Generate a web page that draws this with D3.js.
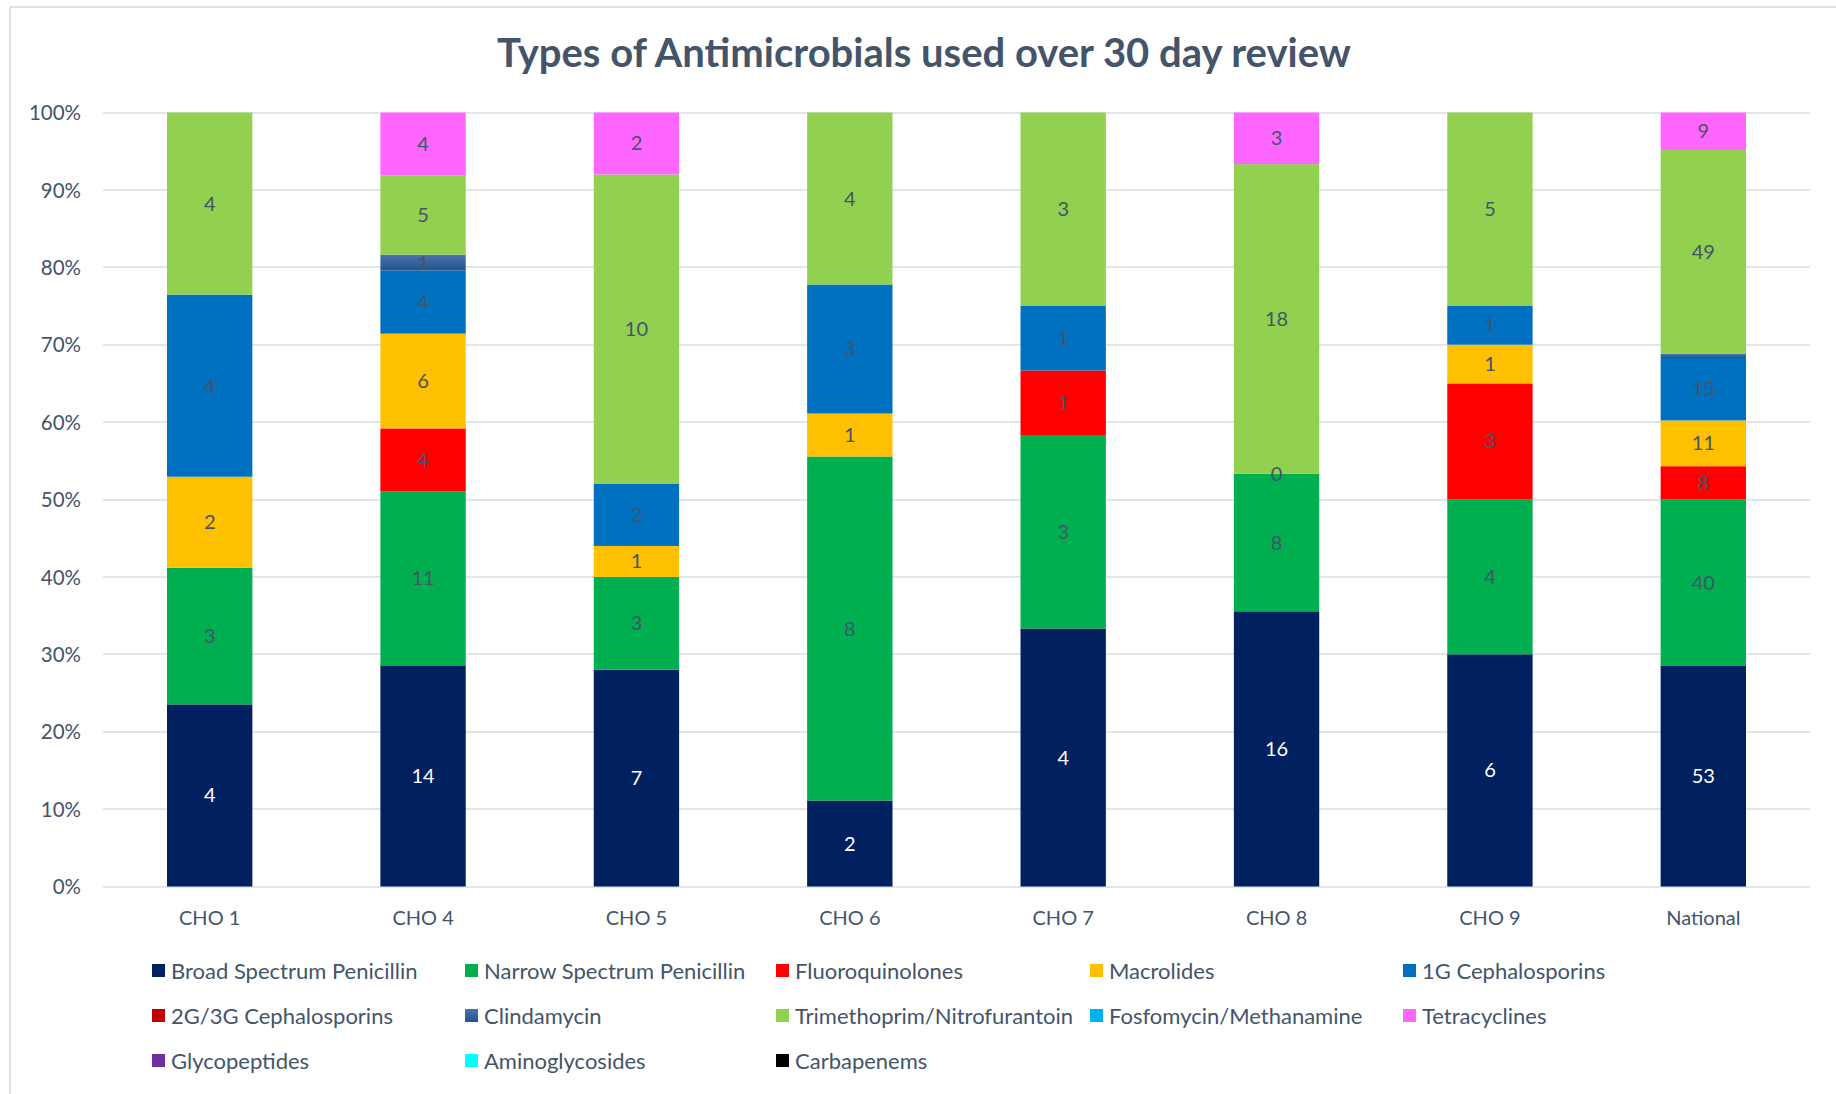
<!DOCTYPE html>
<html><head><meta charset="utf-8">
<script src="https://cdn.jsdelivr.net/npm/d3@7"></script>
<style>
html,body{margin:0;padding:0;background:#fff;}
svg{display:block;font-family:Lato,"Open Sans",sans-serif;}
</style></head>
<body>
<svg id="chart" width="1836" height="1094"></svg>
<script>
const categories = ["CHO 1","CHO 4","CHO 5","CHO 6","CHO 7","CHO 8","CHO 9","National"];
const seriesNames = ["Broad Spectrum Penicillin","Narrow Spectrum Penicillin","Fluoroquinolones","Macrolides","1G Cephalosporins","2G/3G Cephalosporins","Clindamycin","Trimethoprim/Nitrofurantoin","Fosfomycin/Methanamine","Tetracyclines","Glycopeptides","Aminoglycosides","Carbapenems"];
const broadSpectrum   = [4, 14, 7, 2, 4, 16, 6, 53];
const narrowSpectrum  = [3, 11, 3, 8, 3, 8, 4, 40];
const fluoroquinolones= [null, 4, null, null, 1, 0, 3, 8];
const macrolides      = [2, 6, 1, 1, null, null, 1, 11];
const cephalosporins1G= [4, 4, 2, 3, 1, null, 1, 15];
const cephalosporins23G=[null, null, null, null, null, null, null, null];
const clindamycin     = [null, 1, null, null, null, null, null, 1];
const trimethoprim    = [4, 5, 10, 4, 3, 18, 5, 49];
const fosfomycin      = [null, null, null, null, null, null, null, null];
const tetracyclines   = [null, 4, 2, null, null, 3, null, 9];
const glycopeptides   = [null, null, null, null, null, null, null, null];
const aminoglycosides = [null, null, null, null, null, null, null, null];
const carbapenems     = [null, null, null, null, null, null, null, null];
const yTicks = [0,0.1,0.2,0.3,0.4,0.5,0.6,0.7,0.8,0.9,1];
const colors = ["#002060","#00B050","#FF0000","#FFC000","#0070C0","#C00000","url(#clinGrad)","#92D050","#00B0F0","#FF66FF","#7030A0","#00FFFF","#000000"];

const seriesValues = [broadSpectrum,narrowSpectrum,fluoroquinolones,macrolides,cephalosporins1G,cephalosporins23G,clindamycin,trimethoprim,fosfomycin,tetracyclines,glycopeptides,aminoglycosides,carbapenems];
const rows = categories.map((c,i)=>{const r={cat:c}; seriesNames.forEach((s,j)=>{r[s]=seriesValues[j][i];}); return r;});

const svg = d3.select("#chart");
const defs = svg.append("defs");
const g1 = defs.append("linearGradient").attr("id","clinGrad").attr("x1",0).attr("y1",0).attr("x2",0).attr("y2",1);
g1.append("stop").attr("offset","0%").attr("stop-color","#4A75AC");
g1.append("stop").attr("offset","100%").attr("stop-color","#24528A");

const textColor = "#44546A";
// chart border (top and left visible)
svg.append("line").attr("x1",10).attr("x2",1836).attr("y1",7).attr("y2",7).attr("stroke","#DDE3EC").attr("stroke-width",2);
svg.append("line").attr("x1",10).attr("x2",10).attr("y1",6).attr("y2",1094).attr("stroke","#DDE3EC").attr("stroke-width",2);

// title
svg.append("text").attr("x",924).attr("y",67).attr("text-anchor","middle")
  .attr("fill",textColor).attr("font-weight",700).attr("font-size",40)
  .text("Types of Antimicrobials used over 30 day review");

const x = d3.scaleBand().domain(categories).range([103,1810]).paddingInner(0.6).paddingOuter(0.3);
const y = d3.scaleLinear().domain([0,1]).range([886.5,112.5]);

// gridlines
svg.append("g").selectAll("line").data(yTicks).join("line")
  .attr("x1",103).attr("x2",1810).attr("y1",d=>Math.round(y(d))).attr("y2",d=>Math.round(y(d)))
  .attr("stroke","#E2E6EC").attr("stroke-width",2);

// y axis
const yAxis = d3.axisLeft(y).tickValues(yTicks).tickFormat(d3.format(".0%")).tickSize(0).tickPadding(0);
const ya = svg.append("g").attr("transform","translate(81,0)").call(yAxis);
ya.select(".domain").remove();
ya.selectAll("text").attr("fill",textColor).attr("font-size",20.5).attr("font-family","Lato,sans-serif").attr("dy","0.35em");

// x axis
const xAxis = d3.axisBottom(x).tickSize(0).tickPadding(0);
const xa = svg.append("g").attr("transform","translate(0,911)").call(xAxis);
xa.select(".domain").remove();
xa.selectAll("text").attr("fill",textColor).attr("font-size",20).attr("font-family","Lato,sans-serif");

// stack
const stack = d3.stack().keys(seriesNames).value((d,k)=>d[k]==null?0:d[k]).offset(d3.stackOffsetExpand);
const stacked = stack(rows);

const layers = svg.append("g").selectAll("g").data(stacked).join("g").attr("fill",(d,i)=>colors[i]);
layers.selectAll("rect").data(d=>d.map(p=>({p,key:d.key}))).join("rect")
  .attr("x",d=>x(d.p.data.cat)).attr("width",x.bandwidth())
  .attr("y",d=>y(d.p[1])).attr("height",d=>Math.max(0,y(d.p[0])-y(d.p[1])));

// labels
const labelG = svg.append("g");
stacked.forEach((layer,si)=>{
  layer.forEach((p,ci)=>{
    const v = seriesValues[si][ci];
    if(v==null) return;
    const h = y(p[0])-y(p[1]);
    if(v!==0 && h<8) return;
    labelG.append("text")
      .attr("x",x(p.data.cat)+x.bandwidth()/2)
      .attr("y",(y(p[0])+y(p[1]))/2)
      .attr("dy","0.35em").attr("text-anchor","middle")
      .attr("font-size",20)
      .attr("fill",si===0?"#FFFFFF":textColor)
      .text(v);
  });
});

// legend
const legCols = [152,465,776,1090,1403];
const legRows = [971,1016,1061];
const leg = svg.append("g").selectAll("g").data(seriesNames).join("g")
  .attr("transform",(d,i)=>`translate(${legCols[i%5]},${legRows[Math.floor(i/5)]})`);
leg.append("rect").attr("x",0).attr("y",-7).attr("width",13).attr("height",13).attr("fill",(d,i)=>colors[i]);
leg.append("text").attr("x",19).attr("y",0).attr("dy","0.35em").attr("font-size",22).attr("fill",textColor).text(d=>d);
</script>
</body></html>
